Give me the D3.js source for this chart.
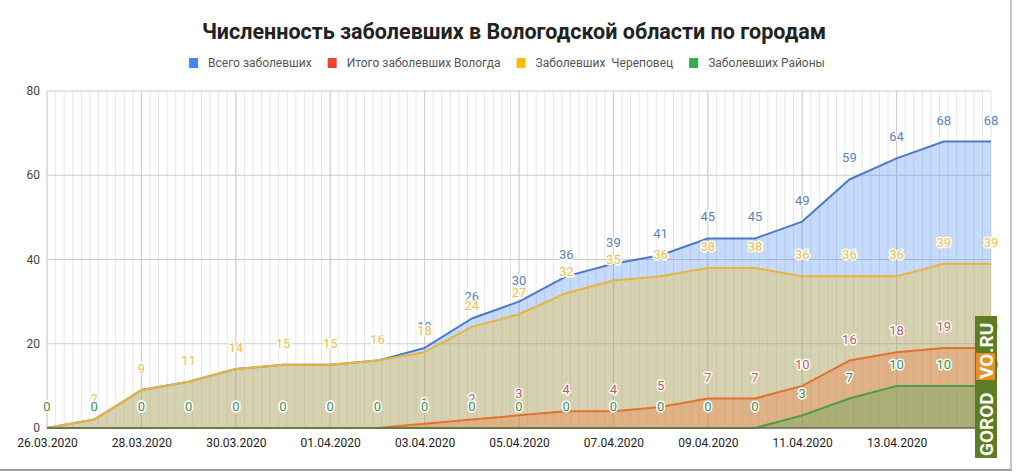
<!DOCTYPE html>
<html>
<head>
<meta charset="utf-8">
<script src="https://cdn.jsdelivr.net/npm/d3@7"></script>
<style>
  body { margin: 0; background: #fff; }
  svg { display: block; font-family: Roboto, Arial, sans-serif; }
</style>
</head>
<body>
<div id="chart"></div>
<script>
// dates (one point a day)
var dates = [
  "26.03.2020", "27.03.2020", "28.03.2020", "29.03.2020", "30.03.2020",
  "31.03.2020", "01.04.2020", "02.04.2020", "03.04.2020", "04.04.2020",
  "05.04.2020", "06.04.2020", "07.04.2020", "08.04.2020", "09.04.2020",
  "10.04.2020", "11.04.2020", "12.04.2020", "13.04.2020", "14.04.2020",
  "15.04.2020"
];
var totalCases = [0, 2, 9, 11, 14, 15, 15, 16, 19, 26, 30, 36, 39, 41, 45, 45, 49, 59, 64, 68, 68];
var vologdaCases = [0, 0, 0, 0, 0, 0, 0, 0, 1, 2, 3, 4, 4, 5, 7, 7, 10, 16, 18, 19, 19];
var cherepovetsCases = [0, 2, 9, 11, 14, 15, 15, 16, 18, 24, 27, 32, 35, 36, 38, 38, 36, 36, 36, 39, 39];
var districtCases = [0, 0, 0, 0, 0, 0, 0, 0, 0, 0, 0, 0, 0, 0, 0, 0, 3, 7, 10, 10, 10];

var seriesNames = ["Всего заболевших", "Итого заболевших Вологда", "Заболевших  Череповец", "Заболевших Районы"];
var xTickLabels = [
  "26.03.2020", "28.03.2020", "30.03.2020", "01.04.2020", "03.04.2020",
  "05.04.2020", "07.04.2020", "09.04.2020", "11.04.2020", "13.04.2020"
];
var yTicks = [0, 20, 40, 60, 80];

var width = 1016;
var height = 471;
var plotLeft = 47, plotRight = 991, plotTop = 91, plotBottom = 428;

var fillColors = ["#4285f4", "#ea4335", "#fbbc04", "#34a853"];
var lineColors = ["#4a7bcb", "#d9523f", "#e6b53a", "#4a9c47"];
var labelColors = ["#5a80bb", "#c8585a", "#efc046", "#3f9150"];

var parse = d3.utcParse("%d.%m.%Y");
var days = dates.map(parse);
var values = [totalCases, vologdaCases, cherepovetsCases, districtCases];

var svg = d3.select("#chart").append("svg")
  .attr("width", width)
  .attr("height", height);

var x = d3.scaleUtc().domain([days[0], days[days.length - 1]]).range([plotLeft, plotRight]);
var y = d3.scaleLinear().domain([0, 80]).range([plotBottom, plotTop]);

// minor vertical grid: 11 lines per two days
var step = 2 * 864e5 / 11;
var start = days[0].getTime();
var nMinor = Math.round((days[days.length - 1].getTime() - start) / step);
svg.append("g")
  .selectAll("line")
  .data(d3.range(0, nMinor + 1).map(function (i) { return new Date(start + i * step); }))
  .enter().append("line")
  .attr("x1", function (d) { return x(d); })
  .attr("x2", function (d) { return x(d); })
  .attr("y1", plotTop).attr("y2", plotBottom)
  .attr("stroke", "#e6e6e6")
  .attr("stroke-width", 1);

var tickDays = xTickLabels.map(parse);
svg.append("g")
  .selectAll("line")
  .data(tickDays)
  .enter().append("line")
  .attr("x1", function (d) { return x(d); })
  .attr("x2", function (d) { return x(d); })
  .attr("y1", plotTop).attr("y2", plotBottom)
  .attr("stroke", "#cccccc");

svg.append("g")
  .selectAll("line")
  .data(yTicks)
  .enter().append("line")
  .attr("x1", plotLeft).attr("x2", plotRight)
  .attr("y1", function (d) { return y(d); })
  .attr("y2", function (d) { return y(d); })
  .attr("stroke", "#cccccc");

// areas + lines, in series order
var area = d3.area()
  .x(function (d, i) { return x(days[i]); })
  .y0(y(0))
  .y1(function (d) { return y(d); });
var line = d3.line()
  .x(function (d, i) { return x(days[i]); })
  .y(function (d) { return y(d); });

values.forEach(function (vals, s) {
  svg.append("path")
    .attr("d", area(vals))
    .attr("fill", fillColors[s])
    .attr("fill-opacity", 0.3);
  svg.append("path")
    .attr("d", line(vals))
    .attr("fill", "none")
    .attr("stroke", lineColors[s])
    .attr("stroke-width", 2)
    .attr("stroke-linejoin", "round");
});

// baseline
svg.append("line")
  .attr("x1", plotLeft).attr("x2", plotRight)
  .attr("y1", y(0)).attr("y2", y(0))
  .attr("stroke", "#6f6f45")
  .attr("stroke-width", 1.5);

// data labels
values.forEach(function (vals, s) {
  svg.append("g")
    .selectAll("text")
    .data(vals)
    .enter().append("text")
    .attr("x", function (d, i) { return x(days[i]); })
    .attr("y", function (d) { return y(d) - 17; })
    .attr("text-anchor", "middle")
    .attr("font-size", 13)
    .attr("fill", labelColors[s])
    .attr("stroke", "#fff")
    .attr("stroke-width", 3)
    .attr("stroke-linejoin", "round")
    .attr("paint-order", "stroke")
    .text(function (d) { return d; });
});

// axes labels
svg.append("g")
  .selectAll("text")
  .data(yTicks)
  .enter().append("text")
  .attr("x", 40)
  .attr("y", function (d) { return y(d) + 4; })
  .attr("text-anchor", "end")
  .attr("font-size", 12)
  .attr("fill", "#444")
  .text(function (d) { return d; });

var xAxis = svg.append("g")
  .attr("transform", "translate(0," + plotBottom + ")")
  .call(d3.axisBottom(x).tickValues(tickDays).tickSize(0).tickPadding(10)
    .tickFormat(d3.utcFormat("%d.%m.%Y")));
xAxis.select(".domain").remove();
xAxis.selectAll("text")
  .attr("font-family", "Roboto, Arial, sans-serif")
  .attr("font-size", 12)
  .attr("fill", "#222");

// title
svg.append("text")
  .attr("x", 514)
  .attr("y", 39)
  .attr("text-anchor", "middle")
  .attr("font-size", 21.5)
  .attr("font-weight", "bold")
  .attr("fill", "#222")
  .text("Численность заболевших в Вологодской области по городам");

// legend
var legend = svg.append("g");
var lx = 0;
seriesNames.forEach(function (name, s) {
  var item = legend.append("g").attr("transform", "translate(" + lx + ",0)");
  item.append("rect")
    .attr("x", 0).attr("y", -9)
    .attr("width", 9).attr("height", 10)
    .attr("fill", fillColors[s]);
  var t = item.append("text")
    .attr("x", 19)
    .attr("y", 0)
    .attr("font-size", 12)
    .attr("fill", "#555")
    .style("white-space", "pre")
    .text(name);
  lx += 19 + t.node().getComputedTextLength() + 16;
});
legend.attr("transform", "translate(" + (507 - (lx - 16) / 2) + ",67)");

// watermark
var wm = svg.append("g").attr("transform", "translate(986,457) rotate(-90)");
wm.append("rect").attr("x", -1).attr("y", -11).attr("width", 142).attr("height", 22).attr("fill", "#5e7c22");
wm.append("rect").attr("x", 77).attr("y", -10).attr("width", 27).attr("height", 19).attr("fill", "#ea8f24");
wm.append("text").attr("x", 1).attr("y", 7).attr("font-size", 19).attr("font-weight", "bold")
  .attr("fill", "#fff").text("GOROD");
wm.append("text").attr("x", 78).attr("y", 7).attr("font-size", 19).attr("font-weight", "bold")
  .attr("fill", "#fff").text("VO");
wm.append("text").attr("x", 104).attr("y", 7).attr("font-size", 19).attr("font-weight", "bold")
  .attr("fill", "#fff").text(".RU");

// frame edges
svg.append("line").attr("x1", 0).attr("x2", 1012).attr("y1", 470).attr("y2", 470)
  .attr("stroke", "#9a9a9a").attr("stroke-width", 2);
svg.append("line").attr("x1", 1011).attr("x2", 1011).attr("y1", 0).attr("y2", 471)
  .attr("stroke", "#b0b0b0").attr("stroke-width", 1.5);
</script>
</body>
</html>
